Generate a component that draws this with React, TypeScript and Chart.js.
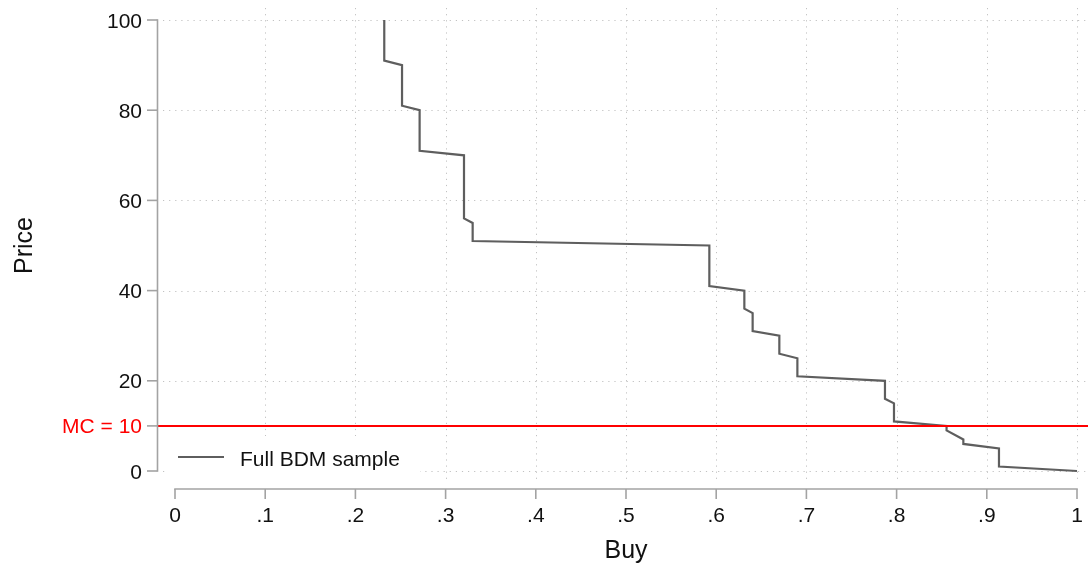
import React, { useEffect, useRef } from "react";
import { Chart, registerables } from "chart.js";

Chart.register(...registerables);

// Demand curve: share of the BDM sample willing to buy at each price
const buyShare = [
  0.232, 0.232, 0.2517, 0.2517, 0.2712, 0.2712, 0.3204, 0.3204, 0.33, 0.33,
  0.5924, 0.5924, 0.6312, 0.6312, 0.6404, 0.6404, 0.67, 0.67, 0.69, 0.69,
  0.7871, 0.7871, 0.7971, 0.7971, 0.8554, 0.8554, 0.874, 0.874, 0.9135, 0.9135, 1.0,
];
const price = [
  100, 91, 90, 81, 80, 71, 70, 56, 55, 51,
  50, 41, 40, 36, 35, 31, 30, 26, 25, 21,
  20, 16, 15, 11, 10, 9, 7, 6, 5, 1, 0,
];

const marginalCost = 10;
const mcLabel = "MC = 10";
const seriesLabel = "Full BDM sample";
const xTitle = "Buy";
const yTitle = "Price";

const xTicks = [0, 0.1, 0.2, 0.3, 0.4, 0.5, 0.6, 0.7, 0.8, 0.9, 1];
const xTickLabels = ["0", ".1", ".2", ".3", ".4", ".5", ".6", ".7", ".8", ".9", "1"];
const yTicks = [0, 20, 40, 60, 80, 100];
const yTickLabels = ["0", "20", "40", "60", "80", "100"];

// Axis ranges include the plot-region margins around the 0..1 / 0..100 data range
const X_MIN = -0.018847;
const X_MAX = 1.012195;
const Y_MIN = -2.439;
const Y_MAX = 102.661;

const FONT = "'Liberation Sans', Arial, Helvetica, sans-serif";
const LINE_COLOR = "#5e5e5e";
const AXIS_COLOR = "#a3a3a3";
const GRID_COLOR = "#c2c2c2";
const TEXT_COLOR = "#111111";

const stataFrame = {
  id: "stataFrame",
  beforeDatasetsDraw(chart: any) {
    const { ctx, chartArea, scales } = chart;
    const xs = scales.x;
    const ys = scales.y;
    ctx.save();
    ctx.strokeStyle = GRID_COLOR;
    ctx.lineWidth = 1;
    ctx.setLineDash([1.2, 4.9]);
    // horizontal dotted grid
    for (const v of yTicks) {
      const y = Math.round(ys.getPixelForValue(v)) + 0.5;
      ctx.beginPath();
      ctx.moveTo(chartArea.left + 5, y);
      ctx.lineTo(chartArea.right - 2, y);
      ctx.stroke();
    }
    // vertical dotted grid
    for (const v of xTicks) {
      if (v === 0) continue;
      const x = Math.round(xs.getPixelForValue(v)) + 0.5;
      ctx.beginPath();
      ctx.moveTo(x, chartArea.top);
      ctx.lineTo(x, chartArea.bottom);
      ctx.stroke();
    }
    ctx.restore();

    // legend panel hides the grid behind it
    ctx.save();
    ctx.fillStyle = "#ffffff";
    ctx.fillRect(166, 436, 254, 43);
    ctx.restore();
  },
  afterDatasetsDraw(chart: any) {
    const { ctx, scales } = chart;
    const xs = scales.x;
    const ys = scales.y;
    const axisX = 157.5;
    const axisY = 489;
    ctx.save();

    // legend
    ctx.strokeStyle = LINE_COLOR;
    ctx.lineWidth = 2.2;
    ctx.setLineDash([]);
    ctx.beginPath();
    ctx.moveTo(178, 457);
    ctx.lineTo(224, 457);
    ctx.stroke();
    ctx.fillStyle = TEXT_COLOR;
    ctx.font = `21px ${FONT}`;
    ctx.textAlign = "left";
    ctx.textBaseline = "alphabetic";
    ctx.fillText(seriesLabel, 240, 466);

    // y axis
    ctx.strokeStyle = AXIS_COLOR;
    ctx.lineWidth = 1.6;
    const y0 = ys.getPixelForValue(0);
    const y100 = ys.getPixelForValue(100);
    ctx.beginPath();
    ctx.moveTo(axisX, y100 - 0.8);
    ctx.lineTo(axisX, y0 + 0.8);
    ctx.stroke();
    const yTickVals = [...yTicks, marginalCost];
    for (const v of yTickVals) {
      const y = ys.getPixelForValue(v);
      ctx.beginPath();
      ctx.moveTo(axisX - 10.5, y);
      ctx.lineTo(axisX, y);
      ctx.stroke();
    }

    // x axis (offset below the plot region)
    const x0 = xs.getPixelForValue(0);
    const x1 = xs.getPixelForValue(1);
    ctx.beginPath();
    ctx.moveTo(x0 - 0.8, axisY);
    ctx.lineTo(x1 + 0.8, axisY);
    ctx.stroke();
    for (const v of xTicks) {
      const x = xs.getPixelForValue(v);
      ctx.beginPath();
      ctx.moveTo(x, axisY);
      ctx.lineTo(x, axisY + 10);
      ctx.stroke();
    }

    // tick labels
    ctx.font = `21px ${FONT}`;
    ctx.fillStyle = TEXT_COLOR;
    ctx.textAlign = "right";
    ctx.textBaseline = "alphabetic";
    yTicks.forEach((v, i) => {
      ctx.fillText(yTickLabels[i], 142, ys.getPixelForValue(v) + 7.5);
    });
    ctx.fillStyle = "#ff0000";
    ctx.fillText(mcLabel, 142, ys.getPixelForValue(marginalCost) + 7.5);

    ctx.fillStyle = TEXT_COLOR;
    ctx.textAlign = "center";
    xTicks.forEach((v, i) => {
      ctx.fillText(xTickLabels[i], xs.getPixelForValue(v), 522);
    });

    // axis titles
    ctx.font = `25px ${FONT}`;
    ctx.fillText(xTitle, (x0 + x1) / 2, 558);
    ctx.save();
    ctx.translate(32, (y0 + y100) / 2);
    ctx.rotate(-Math.PI / 2);
    ctx.textAlign = "center";
    ctx.fillText(yTitle, 0, 0);
    ctx.restore();

    ctx.restore();
  },
};

export default function App() {
  const canvasRef = useRef<HTMLCanvasElement | null>(null);

  useEffect(() => {
    if (!canvasRef.current) return;
    const points = buyShare.map((b, i) => ({ x: b, y: price[i] }));
    const chart = new Chart(canvasRef.current, {
      type: "line",
      data: {
        datasets: [
          {
            label: mcLabel,
            data: [
              { x: X_MIN, y: marginalCost },
              { x: X_MAX, y: marginalCost },
            ],
            borderColor: "#ff0000",
            borderWidth: 2,
            pointRadius: 0,
            order: 0,
          },
          {
            label: seriesLabel,
            data: points,
            borderColor: LINE_COLOR,
            borderWidth: 2.2,
            pointRadius: 0,
            tension: 0,
            order: 1,
          },
        ],
      },
      options: {
        animation: false,
        responsive: true,
        maintainAspectRatio: false,
        layout: { padding: { left: 158, right: 0, top: 8, bottom: 85 } },
        scales: {
          x: { type: "linear", min: X_MIN, max: X_MAX, display: false },
          y: { type: "linear", min: Y_MIN, max: Y_MAX, display: false },
        },
        plugins: {
          legend: { display: false },
          tooltip: { enabled: false },
        },
      },
      plugins: [stataFrame],
    });
    return () => chart.destroy();
  }, []);

  return (
    <div
      style={{
        position: "absolute",
        left: 0,
        top: 0,
        width: "1088px",
        height: "567px",
        background: "#ffffff",
      }}
    >
      <canvas ref={canvasRef} />
    </div>
  );
}
